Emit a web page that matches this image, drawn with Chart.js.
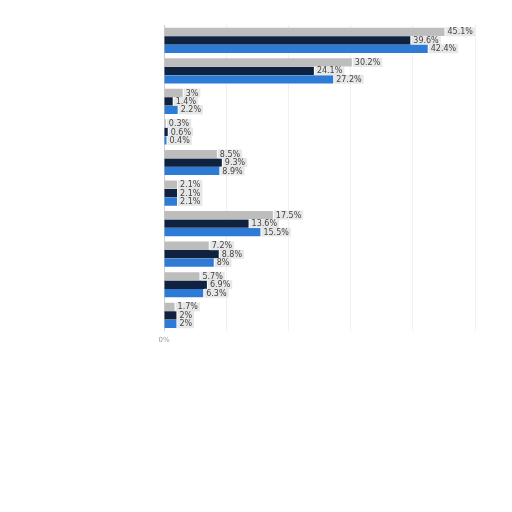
<!DOCTYPE html>
<html><head><meta charset="utf-8">
<script src="https://cdn.jsdelivr.net/npm/chart.js@4"></script>
<style>html,body{margin:0;padding:0;background:#fff;}canvas{display:block;}</style>
</head><body>
<canvas id="c" width="512" height="512"></canvas>
<script>
const categories = ["C1","C2","C3","C4","C5","C6","C7","C8","C9","C10"];
const seriesGray = [45.1, 30.2, 3, 0.3, 8.5, 2.1, 17.5, 7.2, 5.7, 1.7];
const seriesNavy = [39.6, 24.1, 1.4, 0.6, 9.3, 2.1, 13.6, 8.8, 6.9, 2];
const seriesBlue = [42.4, 27.2, 2.2, 0.4, 8.9, 2.1, 15.5, 8, 6.3, 2];
const xTicks = [0, 10, 20, 30, 40, 50];

const labelPlugin = {
  id: 'barLabels',
  afterDatasetsDraw(chart) {
    const ctx = chart.ctx;
    ctx.save();
    ctx.font = '8px "DejaVu Sans"';
    ctx.textBaseline = 'middle';
    chart.data.datasets.forEach((ds, i) => {
      const meta = chart.getDatasetMeta(i);
      meta.data.forEach((bar, j) => {
        const txt = ds.data[j] + '%';
        const w = ctx.measureText(txt).width;
        const x = bar.x + 3;
        ctx.fillStyle = 'rgba(225,225,225,0.8)';
        ctx.fillRect(x - 2, bar.y - 4.5, w + 4, 9);
        ctx.fillStyle = '#444';
        ctx.fillText(txt, x, bar.y + 0.5);
      });
    });
    ctx.restore();
  }
};

new Chart(document.getElementById('c'), {
  type: 'bar',
  data: {
    labels: categories,
    datasets: [
      { data: seriesGray, backgroundColor: '#bdbdbd' },
      { data: seriesNavy, backgroundColor: '#0f2340' },
      { data: seriesBlue, backgroundColor: '#2e7bd6' }
    ]
  },
  options: {
    indexAxis: 'y',
    responsive: false,
    animation: false,
    devicePixelRatio: 1,
    layout: { padding: { left: 156, top: 25, right: 37, bottom: 163 } },
    plugins: { legend: { display: false }, tooltip: { enabled: false } },
    datasets: { bar: { categoryPercentage: 0.83, barPercentage: 0.98 } },
    scales: {
      x: {
        min: 0, max: 50,
        afterBuildTicks(axis) { axis.ticks = xTicks.map(v => ({ value: v })); },
        grid: { color: 'rgba(0,0,0,0.06)', drawTicks: false },
        border: { display: false },
        ticks: {
          padding: 5,
          color: '#999',
          font: { size: 7, family: 'DejaVu Sans' },
          callback: (v) => v === 0 ? '0%' : ''
        }
      },
      y: {
        grid: { display: false },
        border: { color: '#cfcfcf', width: 1 },
        ticks: { display: false }
      }
    }
  },
  plugins: [labelPlugin]
});
</script>
</body></html>
